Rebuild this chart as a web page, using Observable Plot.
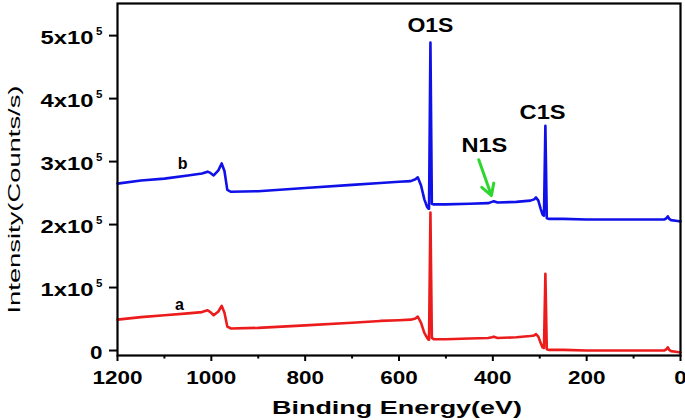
<!DOCTYPE html>
<html><head><meta charset="utf-8">
<script src="https://cdn.jsdelivr.net/npm/d3@7"></script>
<script src="https://cdn.jsdelivr.net/npm/@observablehq/plot@0.6"></script>
<style>body{margin:0;background:#fff} svg{display:block;background:#fff}</style>
</head><body><div id="chart"></div>
<script>
// Binding energy (eV) sample points
const energy = [1200,1150,1100,1050,1020,1008,1002,995,985,978,972,966,958,900,800,700,640,600,575,565,560,553,546,540,537,536,533,530,526,520,500,450,410,402,398,390,350,320,312,308,303,298,294,291,288,285,280,250,200,150,100,60,35,30,27,24,20,10,0];
// Intensity in units of 1e5 counts/s
const seriesA = [0.49,0.53,0.56,0.59,0.61,0.64,0.61,0.56,0.62,0.71,0.60,0.38,0.35,0.36,0.40,0.44,0.47,0.48,0.49,0.51,0.54,0.44,0.28,0.20,0.17,0.17,2.19,0.20,0.18,0.18,0.18,0.19,0.20,0.21,0.22,0.20,0.21,0.23,0.24,0.26,0.22,0.12,0.05,0.04,1.22,0.02,0.01,0.01,0.00,0.00,0.00,0.00,0.00,0.02,0.05,0.01,-0.01,-0.02,-0.03];
const seriesB = [2.65,2.70,2.73,2.78,2.81,2.84,2.82,2.78,2.86,2.97,2.85,2.55,2.52,2.53,2.58,2.63,2.66,2.68,2.69,2.72,2.75,2.62,2.40,2.28,2.25,2.25,4.89,2.33,2.32,2.32,2.32,2.33,2.34,2.36,2.37,2.35,2.36,2.38,2.40,2.43,2.38,2.25,2.16,2.14,3.57,2.10,2.09,2.09,2.08,2.08,2.08,2.08,2.08,2.10,2.13,2.09,2.07,2.06,2.05];

const xMajorTicks = [1200,1000,800,600,400,200,0];
const xMinorTicks = [1100,900,700,500,300,100];
const yTicks = [0,1,2,3,4,5];
const yTickLabels = ["0","1x10","2x10","3x10","4x10","5x10"];
const yExponent = "5";

const peakLabels = ["O1S","C1S","N1S"];
const peakLabelEnergy = [533,294,418];
const peakLabelIntensity = [5.05,3.67,3.16];

const curveLabels = ["a","b"];
const curveLabelEnergy = [1068,1061];
const curveLabelIntensity = [0.65,2.89];

const arrowEnergy = [430,403];      // from, to
const arrowIntensity = [3.03,2.46]; // from, to

const xTitle = "Binding Energy(eV)";
const yTitle = "Intensity(Counts/s)";

const rowsA = energy.map((e,i)=>({energy:e, intensity:seriesA[i]}));
const rowsB = energy.map((e,i)=>({energy:e, intensity:seriesB[i]}));
const yRows = yTicks.map((v,i)=>({v, label:yTickLabels[i]}));
const peakRows = peakLabels.map((t,i)=>({t, e:peakLabelEnergy[i], v:peakLabelIntensity[i]}));
const curveRows = curveLabels.map((t,i)=>({t, e:curveLabelEnergy[i], v:curveLabelIntensity[i]}));
const arrowRows = [{x1:arrowEnergy[0], y1:arrowIntensity[0], x2:arrowEnergy[1], y2:arrowIntensity[1]}];

const font = "'Liberation Sans', Arial, sans-serif";

const plot = Plot.plot({
  width: 685, height: 420,
  marginLeft: 117, marginRight: 5, marginTop: 3, marginBottom: 65,
  style: {fontFamily: font, background: "#fff", color: "#000"},
  x: {domain: [1200, 0], label: null},
  y: {domain: [-0.079, 5.51], label: null},
  marks: [
    Plot.axisX({ticks: xMajorTicks, tickSize: 6, strokeWidth: 2, tickFormat: () => "", label: null}),
    Plot.axisX({ticks: xMinorTicks, tickSize: 3.5, strokeWidth: 2, tickFormat: () => "", label: null}),
    Plot.axisY({ticks: yTicks, tickSize: 8, strokeWidth: 2, tickFormat: () => "", label: null}),
    Plot.line(rowsA, {x: "energy", y: "intensity", stroke: "#ec1c1c", strokeWidth: 2.6}),
    Plot.line(rowsB, {x: "energy", y: "intensity", stroke: "#1010e8", strokeWidth: 2.6}),
    Plot.frame({stroke: "#000", strokeWidth: 2.2}),
    // x tick labels
    Plot.text(xMajorTicks, {x: d => d, frameAnchor: "bottom", dy: 28, lineAnchor: "bottom", textAnchor: "middle", text: d => String(d), fontSize: 18.5, fontWeight: "bold"}),
    // y tick labels
    Plot.text(yRows.filter(d => d.v !== 0), {y: "v", frameAnchor: "left", dx: -24, dy: 8, lineAnchor: "bottom", textAnchor: "end", text: "label", fontSize: 18, fontWeight: "bold"}),
    Plot.text(yRows.filter(d => d.v !== 0), {y: "v", frameAnchor: "left", dx: -15, dy: -1, lineAnchor: "bottom", textAnchor: "end", text: () => yExponent, fontSize: 11.5, fontWeight: "bold"}),
    Plot.text(yRows.filter(d => d.v === 0), {y: "v", frameAnchor: "left", dx: -15, dy: 8, lineAnchor: "bottom", textAnchor: "end", text: "label", fontSize: 18, fontWeight: "bold"}),
    // axis titles
    Plot.text([xTitle], {frameAnchor: "bottom", dx: -2, dy: 58, lineAnchor: "bottom", textAnchor: "middle", text: d => d, fontSize: 18.5, fontWeight: "bold"}),
    Plot.text([yTitle], {frameAnchor: "left", dx: -98, dy: 20, rotate: -90, lineAnchor: "bottom", textAnchor: "middle", text: d => d, fontSize: 17}),
    // annotations
    Plot.text(peakRows, {x: "e", y: "v", text: "t", lineAnchor: "bottom", fontSize: 21, fontWeight: "bold"}),
    Plot.text(curveRows, {x: "e", y: "v", text: "t", lineAnchor: "bottom", fontSize: 16, fontWeight: "bold"}),
    Plot.arrow(arrowRows, {x1: "x1", y1: "y1", x2: "x2", y2: "y2", stroke: "#2fd62f", strokeWidth: 3, headLength: 11})
  ]
});

// widen glyphs to the reference's wide lettering, keeping the text as real text
const xLabelStrings = xMajorTicks.map(String);
function targetLength(t) {
  if (t === xTitle) return 250;
  if (t === yTitle) return 228;
  if (peakLabels.includes(t)) return 46;
  if (yTickLabels.includes(t) && t !== "0") return 53;
  if (xLabelStrings.includes(t)) return t.length * 12.5;
  return null;
}
plot.querySelectorAll("text").forEach(node => {
  const L = targetLength(node.textContent.trim());
  if (L) { node.setAttribute("textLength", L); node.setAttribute("lengthAdjust", "spacingAndGlyphs"); }
});

document.getElementById("chart").appendChild(plot);
</script>
</body></html>
